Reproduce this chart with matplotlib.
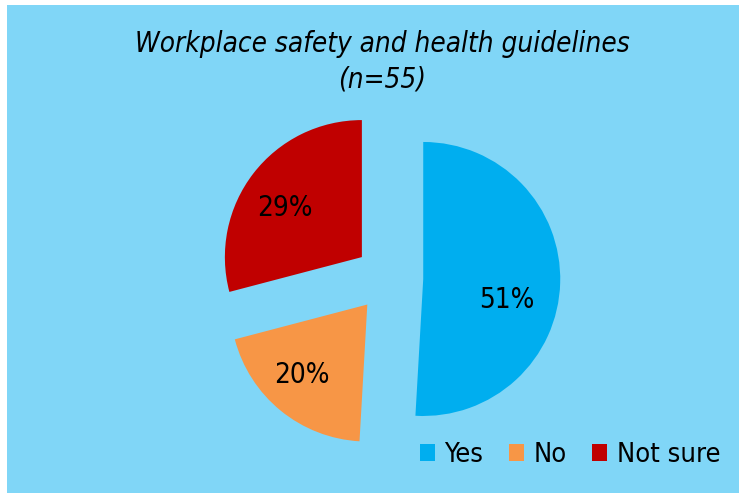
import matplotlib
matplotlib.use("Agg")
import matplotlib.pyplot as plt
from matplotlib.patches import Rectangle

categories = ["Yes", "No", "Not sure"]
counts = [28, 11, 16]
colors = ["#00aeef", "#f79646", "#c00000"]
title = "Workplace safety and health guidelines\n(n=55)"

W, H = 739, 493
fig = plt.figure(figsize=(W / 100, H / 100), dpi=100)
fig.patch.set_facecolor("white")
fig.patches.append(Rectangle((7 / W, 0), 1 - 7 / W, 1 - 5 / H,
                             transform=fig.transFigure, facecolor="#80d6f7",
                             edgecolor="none", zorder=-10))

cx, cy, r = 389, 278, 137
lim = 1.45
side = 2 * lim * r
ax = fig.add_axes([(cx - side / 2) / W, (H - cy - side / 2) / H, side / W, side / H])
ax.set_facecolor("none")
ax.set_zorder(1)

font = dict(family="DejaVu Sans", stretch="condensed")
wedges, texts, autotexts = ax.pie(
    counts, colors=colors, startangle=90, counterclock=False,
    explode=[0.25, 0.25, 0.25], autopct=lambda p: f"{p:.0f}%",
    pctdistance=0.66, textprops=dict(fontsize=20, color="black", **font),
    wedgeprops=dict(linewidth=0))
# label placement (layout only), in pie units relative to centre
label_xy = [(0.86, -0.16), (-0.635, -0.71), (-0.76, 0.51)]
for t, xy in zip(autotexts, label_xy):
    t.set_position(xy)
ax.set_xlim(-lim, lim)
ax.set_ylim(-lim, lim)
ax.set_aspect("equal")
ax.axis("off")

fig.text(382 / W, 1 - 62 / H, title, ha="center", va="center", fontsize=20,
         style="italic", linespacing=1.35, **font)

fig.legend(wedges, categories, loc="center", bbox_to_anchor=(570 / W, 1 - 455 / H),
           ncol=3, frameon=False, handlelength=0.55, handleheight=0.55,
           handletextpad=0.35, columnspacing=0.95, prop=dict(size=19.5, **font))

fig.savefig("out.png", dpi=100, facecolor=fig.get_facecolor())
